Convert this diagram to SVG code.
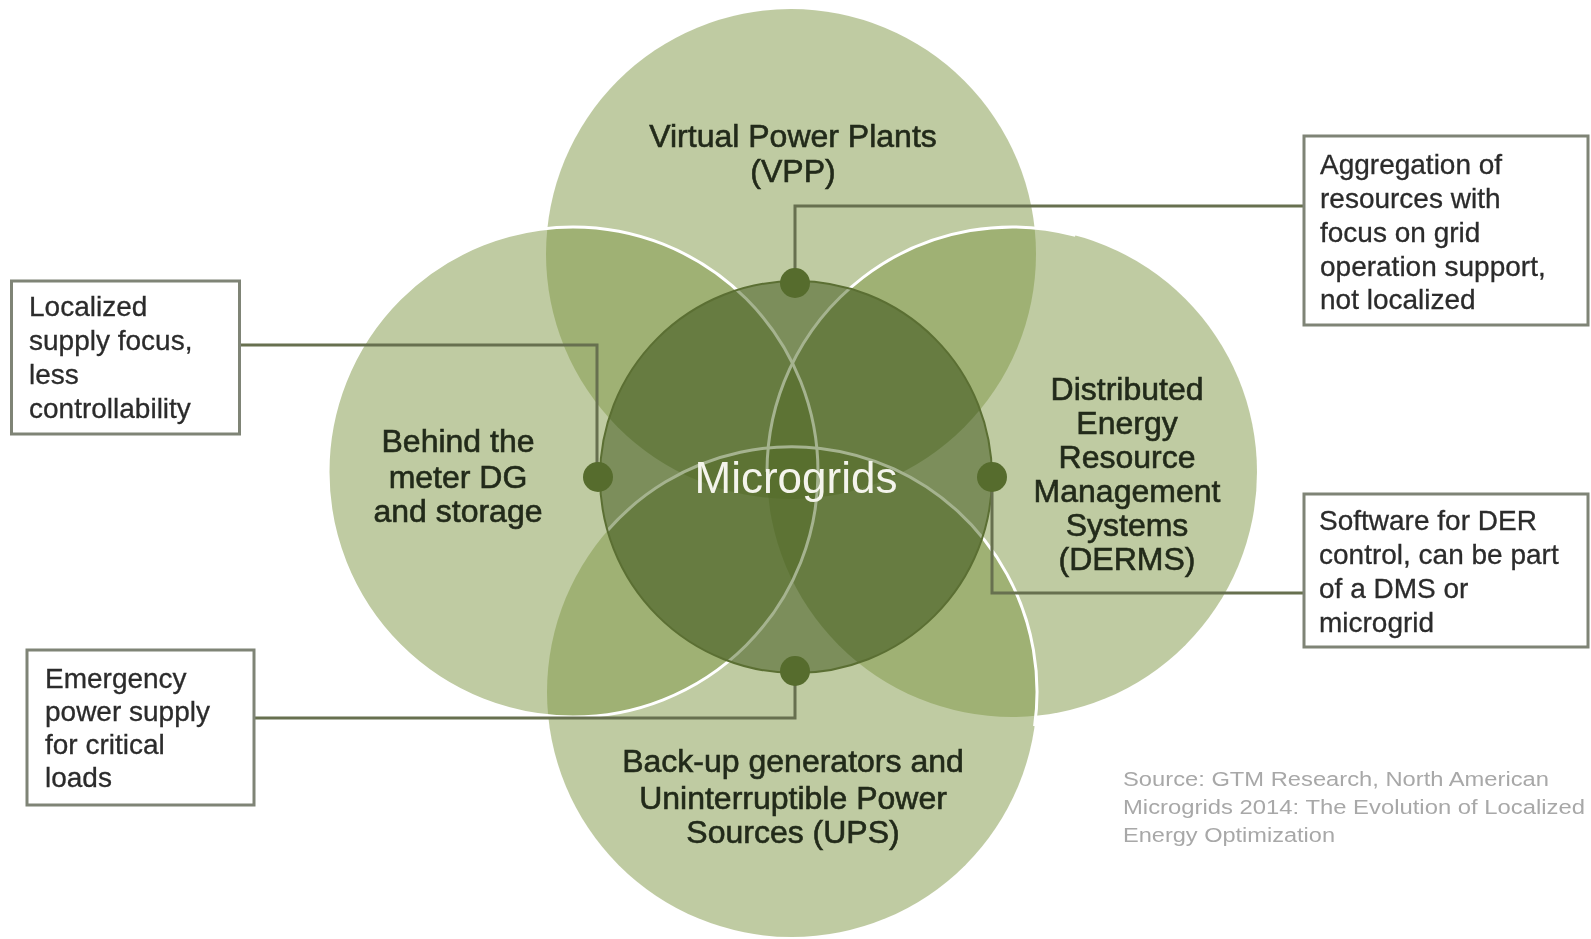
<svg xmlns="http://www.w3.org/2000/svg" width="1591" height="939" viewBox="0 0 1591 939">
<style>
.ring{fill:#7f9746;fill-opacity:0.5}
.edge{fill:none;stroke:#ffffff;stroke-width:3}
.lbl{font-family:"Liberation Sans",Arial,Helvetica,sans-serif;font-size:32px;fill:#222a1a;stroke:#222a1a;stroke-width:0.6;text-anchor:middle}
.box{fill:#ffffff;stroke:#7f8476;stroke-width:3}
.btxt{font-family:"Liberation Sans",Arial,Helvetica,sans-serif;font-size:28px;fill:#2b2b2b;stroke:#2b2b2b;stroke-width:0.3}
.conn{fill:none;stroke:#67704f;stroke-width:3}
.dot{fill:#566c2d}
.src{font-family:"Liberation Sans",Arial,Helvetica,sans-serif;font-size:20px;fill:#a8a8a8}
</style>
<rect width="1591" height="939" fill="#ffffff"/>
<g id="vpp"><circle class="ring" cx="791" cy="254" r="245"/></g>
<g id="derms"><circle class="ring" cx="1012" cy="472" r="245"/></g>
<g id="ups"><circle class="ring" cx="792" cy="692" r="245"/></g>
<g id="btm"><circle class="ring" cx="573" cy="472" r="245"/></g>
<g id="ring-edges">
<path class="edge" d="M1075.4,235.3 A245,245 0 0 0 767,472"/>
<path class="edge" d="M607.3,530.8 A245,245 0 0 1 1034.6,726.1"/>
<circle class="edge" cx="573" cy="472" r="245"/>
</g>
<g id="microgrids">
<circle cx="796" cy="477" r="196" fill="#a5b38f" style="mix-blend-mode:multiply"/>
<circle cx="796" cy="477" r="196" fill="none" stroke="#5b6f33" stroke-width="2"/>
</g>
<g id="connectors">
<path class="conn" d="M239,345 H597 V477"/>
<path class="conn" d="M795,283 V206 H1304"/>
<path class="conn" d="M992,477 V593 H1304"/>
<path class="conn" d="M254,718 H795 V672"/>
</g>
<g id="dots">
<circle class="dot" cx="795" cy="283" r="15"/>
<circle class="dot" cx="598" cy="477" r="15"/>
<circle class="dot" cx="992" cy="477" r="15"/>
<circle class="dot" cx="795" cy="671" r="15"/>
</g>
<g id="labels">
<text class="lbl" x="793" y="147">Virtual Power Plants</text>
<text class="lbl" x="793" y="182">(VPP)</text>
<text class="lbl" x="458" y="452">Behind the</text>
<text class="lbl" x="458" y="488">meter DG</text>
<text class="lbl" x="458" y="522">and storage</text>
<text class="lbl" x="1127" y="400">Distributed</text>
<text class="lbl" x="1127" y="434">Energy</text>
<text class="lbl" x="1127" y="468">Resource</text>
<text class="lbl" x="1127" y="502">Management</text>
<text class="lbl" x="1127" y="536">Systems</text>
<text class="lbl" x="1127" y="570">(DERMS)</text>
<text class="lbl" x="793" y="772">Back-up generators and</text>
<text class="lbl" x="793" y="809">Uninterruptible Power</text>
<text class="lbl" x="793" y="843">Sources (UPS)</text>
<text x="796" y="493" text-anchor="middle" font-family="Liberation Sans, Arial, sans-serif" font-size="44" fill="#f4f4ec">Microgrids</text>
</g>
<g id="box-localized">
<rect class="box" x="11.5" y="281" width="228" height="153"/>
<text class="btxt" x="29" y="316">Localized</text>
<text class="btxt" x="29" y="350">supply focus,</text>
<text class="btxt" x="29" y="384">less</text>
<text class="btxt" x="29" y="418">controllability</text>
</g>
<g id="box-aggregation">
<rect class="box" x="1304" y="136" width="284" height="189"/>
<text class="btxt" x="1320" y="174">Aggregation of</text>
<text class="btxt" x="1320" y="208">resources with</text>
<text class="btxt" x="1320" y="242">focus on grid</text>
<text class="btxt" x="1320" y="276">operation support,</text>
<text class="btxt" x="1320" y="309">not localized</text>
</g>
<g id="box-software">
<rect class="box" x="1304" y="494" width="284" height="153"/>
<text class="btxt" x="1319" y="530">Software for DER</text>
<text class="btxt" x="1319" y="564">control, can be part</text>
<text class="btxt" x="1319" y="598">of a DMS or</text>
<text class="btxt" x="1319" y="632">microgrid</text>
</g>
<g id="box-emergency">
<rect class="box" x="27" y="650" width="227" height="155"/>
<text class="btxt" x="45" y="688">Emergency</text>
<text class="btxt" x="45" y="721">power supply</text>
<text class="btxt" x="45" y="754">for critical</text>
<text class="btxt" x="45" y="787">loads</text>
</g>
<g id="source">
<text class="src" x="1123" y="786" textLength="426" lengthAdjust="spacingAndGlyphs">Source: GTM Research, North American</text>
<text class="src" x="1123" y="814" textLength="462" lengthAdjust="spacingAndGlyphs">Microgrids 2014: The Evolution of Localized</text>
<text class="src" x="1123" y="842" textLength="212" lengthAdjust="spacingAndGlyphs">Energy Optimization</text>
</g>
</svg>
